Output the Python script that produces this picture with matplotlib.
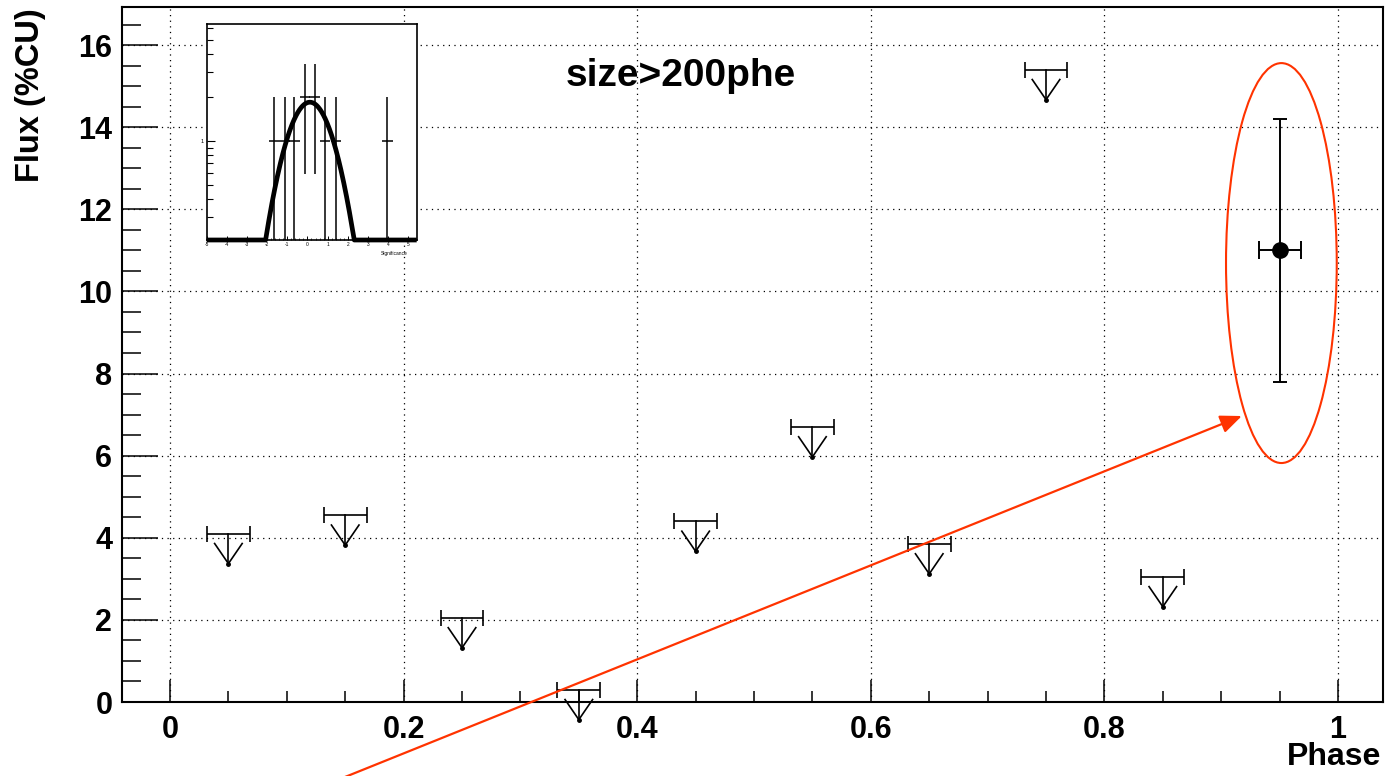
import numpy as np
import matplotlib
matplotlib.use("Agg")
import matplotlib.pyplot as plt
from matplotlib.patches import Ellipse
from matplotlib.ticker import MultipleLocator, FixedLocator, NullFormatter, LogLocator, FixedFormatter

plt.rcParams['font.family'] = ['Liberation Sans', 'DejaVu Sans']

# ---------------- data ----------------
ul_phase = [0.05, 0.15, 0.25, 0.35, 0.45, 0.55, 0.65, 0.75, 0.85]
ul_flux = [4.1, 4.55, 2.05, 0.3, 4.4, 6.7, 3.85, 15.4, 3.05]

det_phase = [0.95]
det_flux = [11.0]
det_flux_err = [3.2]
det_phase_err = [0.018]

x_ticks = [0, 0.2, 0.4, 0.6, 0.8, 1]
x_tick_labels = ["0", "0.2", "0.4", "0.6", "0.8", "1"]
y_ticks = [0, 2, 4, 6, 8, 10, 12, 14, 16]
y_tick_labels = ["0", "2", "4", "6", "8", "10", "12", "14", "16"]

title_text = "size>200phe"
x_label = "Phase"
y_label = "Flux (%CU)"

# highlighted region (ellipse) and pointer arrow tip, in data units
ell_center = (0.9515, 10.69)
ell_size = (0.0948, 9.74)
arrow_tip = (0.9176, 6.965)

# inset: significance distribution
inset_centers = [-1.67, -1.13, -0.65, -0.12, 0.36, 0.88, 1.42, 3.97]
inset_counts = [1, 1, 1, 2, 2, 1, 1, 1]
inset_errs = [1, 1, 1, 1.41, 1.41, 1, 1, 1]
inset_xerr = 0.26
inset_xticks = [-5, -4, -3, -2, -1, 0, 1, 2, 3, 4, 5]
fit_amp = 1.85
fit_mean = 0.12
fit_sigma = 1.05

# ---------------- style ----------------
RED = '#ff3300'
UL_HALF = 0.0183
ARROW_LEN = 0.73
V_DROP = 0.24
V_HALF = 0.0118

fig = plt.figure(figsize=(13.9, 7.76), dpi=100)
W, H = 1390, 776
L, R, T, B = 122, 1383, 7, 702
ax = fig.add_axes([L / W, 1 - B / H, (R - L) / W, (B - T) / H])
ax.set_xlim(-0.0411, 1.0385)
ax.set_ylim(0, (B - T) / 41.06)

ax.set_xticks(x_ticks)
ax.set_xticklabels(x_tick_labels)
ax.set_yticks(y_ticks)
ax.set_yticklabels(y_tick_labels)
ax.xaxis.set_minor_locator(MultipleLocator(0.05))
ax.yaxis.set_minor_locator(MultipleLocator(0.5))
ax.tick_params(axis='both', which='both', direction='in', top=False, right=False,
               width=1.1, labelsize=22, colors='black')
ax.tick_params(axis='x', which='major', length=16, pad=9)
ax.tick_params(axis='x', which='minor', length=8)
ax.tick_params(axis='y', which='major', length=26, pad=7)
ax.tick_params(axis='y', which='minor', length=14)
for lab in ax.get_xticklabels() + ax.get_yticklabels():
    lab.set_fontweight('bold')
for sp in ax.spines.values():
    sp.set_linewidth(1.5)
    sp.set_color('black')

ax.grid(True, which='major', linestyle=(0, (1, 3.5)), color='black', linewidth=0.9)
ax.set_axisbelow(True)

# upper limits
ax.errorbar(ul_phase, ul_flux, xerr=UL_HALF, fmt='none', ecolor='black',
            elinewidth=1.2, capsize=6, capthick=1.2, zorder=3)
for x, u in zip(ul_phase, ul_flux):
    tip = u - ARROW_LEN
    ax.plot([x, x], [u, tip], color='black', lw=1.2, clip_on=False, zorder=3)
    ax.plot([x - V_HALF, x, x + V_HALF], [u - V_DROP, tip, u - V_DROP],
            color='black', lw=1.2, clip_on=False, zorder=3)
    ax.plot([x], [tip], marker='o', ms=2.5, color='black', clip_on=False, zorder=3)

# detection
ax.errorbar(det_phase, det_flux, yerr=det_flux_err, fmt='none', ecolor='black',
            elinewidth=1.4, capsize=5, capthick=1.4, zorder=3)
ax.errorbar(det_phase, det_flux, xerr=det_phase_err, fmt='none', ecolor='black',
            elinewidth=1.4, capsize=6.8, capthick=1.4, zorder=3)
ax.plot(det_phase, det_flux, 'o', color='black', ms=11, zorder=4)

# red ellipse and arrow
ax.add_patch(Ellipse(ell_center, ell_size[0], ell_size[1], fill=False,
                     edgecolor=RED, lw=1.5, zorder=5, clip_on=False))
ax.annotate('', xy=arrow_tip, xycoords='data', xytext=(312.7, -14),
            textcoords='figure pixels', annotation_clip=False,
            arrowprops=dict(arrowstyle='-|>,head_length=1.3,head_width=0.55',
                            color=RED, lw=1.6, shrinkA=0, shrinkB=0,
                            mutation_scale=10), zorder=5)

# texts
fig.text(681 / W, 1 - 86 / H, title_text, ha='center', va='baseline',
         fontsize=28, fontweight='bold')
fig.text(1381 / W, 1 - 757 / H, x_label, ha='right', va='center',
         fontsize=23, fontweight='bold')
fig.text(31 / W, 1 - 8 / H, y_label, ha='center', va='top', rotation=90,
         fontsize=23.5, fontweight='bold')

# ---------------- inset ----------------
iL, iR, iT, iB = 206.7, 416.7, 24.3, 240
iax = fig.add_axes([iL / W, 1 - iB / H, (iR - iL) / W, (iB - iT) / H], zorder=6)
iax.set_facecolor('white')
iax.set_yscale('log')
iymin, iymax = 0.207, 6.38
iax.set_xlim(-5, 5.42)
iax.set_ylim(iymin, iymax)
for sp in iax.spines.values():
    sp.set_linewidth(1.2)
    sp.set_color('black')

counts = np.array(inset_counts, dtype=float)
errs = np.array(inset_errs, dtype=float)
lo = np.maximum(counts - errs, 1e-3)
hi = counts + errs
iax.vlines(inset_centers, lo, hi, color='black', lw=1.1, zorder=3)
iax.hlines(inset_counts, np.array(inset_centers) - inset_xerr,
           np.array(inset_centers) + inset_xerr, color='black', lw=1.1, zorder=3)

xs = np.linspace(-5, 5.42, 600)
fy = fit_amp * np.exp(-0.5 * ((xs - fit_mean) / fit_sigma) ** 2)
iax.plot(xs, np.clip(fy, iymin, iymax), color='black', lw=3.4, clip_on=False,
         zorder=4, solid_capstyle='butt')

iax.set_xticks(inset_xticks)
iax.set_xticklabels([str(v) for v in inset_xticks])
iax.xaxis.set_minor_locator(MultipleLocator(0.2))
iax.tick_params(axis='x', which='major', direction='in', length=3, width=0.7,
                labelsize=3.5, pad=1.5, top=False)
iax.tick_params(axis='x', which='minor', direction='in', length=1.5, width=0.5, top=False)
iax.yaxis.set_major_locator(FixedLocator([1]))
iax.yaxis.set_major_formatter(FixedFormatter(['1']))
iax.yaxis.set_minor_locator(LogLocator(base=10, subs=np.arange(2, 10)))
iax.yaxis.set_minor_formatter(NullFormatter())
iax.tick_params(axis='y', which='major', direction='in', length=6, width=0.8,
                labelsize=4, pad=2, right=False)
iax.tick_params(axis='y', which='minor', direction='in', length=4, width=0.8, right=False)
fig.text(408 / W, 1 - 254 / H, 'Significance', ha='right', va='center', fontsize=3.5)

fig.savefig('out.png', dpi=100)
